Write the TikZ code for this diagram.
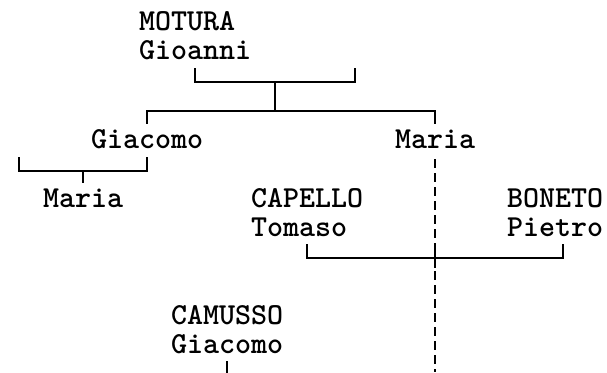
\documentclass[tikz,border=0pt]{standalone}
\usepackage{fontspec}
\newfontfamily\famfont{lmmonolt10-bold.otf}
\usetikzlibrary{calc}
\tikzset{
  person/.style={anchor=base west, inner sep=0pt, outer sep=0pt, align=left,
    font=\famfont\fontsize{30.5}{29}\selectfont},
  rel/.style={line width=2.2pt, line cap=rect, black},
  desc/.style={line width=2.2pt, black, dash pattern=on 9pt off 5pt}
}
\begin{document}
\begin{tikzpicture}[x=1pt, y=-1pt]
\useasboundingbox (0,0) rectangle (607,372);
% people (anchor = baseline of the last line)
\node[person] (motura)  at (139,59)  {MOTURA\\Gioanni};
\node[person] (giacomo) at (91,148)  {Giacomo};
\node[person] (maria1)  at (395,148) {Maria};
\node[person] (maria2)  at (43,207)  {Maria};
\node[person] (capello) at (251,236) {CAPELLO\\Tomaso};
\node[person] (boneto)  at (507,236) {BONETO\\Pietro};
\node[person] (camusso) at (171,353) {CAMUSSO\\Giacomo};
% levels and free ends
\coordinate (sp1) at (355,69);
\coordinate (lvl1) at (0,82);
\coordinate (lvl2) at (0,111);
\coordinate (c1) at (0,123);
\coordinate (sp2) at (19,158);
\coordinate (lvl3) at (0,171);
\coordinate (c2) at (0,182);
\coordinate (d0) at (0,159);
\coordinate (bot) at (0,372);
\coordinate (b4) at (0,245);
\coordinate (lvl4) at (0,258);
\coordinate (c4) at (0,362);
% MOTURA couple
\draw[rel] (motura.center |- sp1) |- (sp1 |- lvl1) -- (sp1);
\coordinate (mid1) at ($(motura.center |- lvl1)!0.5!(sp1 |- lvl1)$);
\draw[rel] (mid1) -- (mid1 |- lvl2);
\draw[rel] (giacomo.center |- c1) |- (maria1.center |- lvl2) -- (maria1.center |- c1);
% Giacomo couple
\draw[rel] (sp2) |- (giacomo.center |- lvl3) -- (giacomo.center |- sp2);
\coordinate (mid2) at ($(sp2 |- lvl3)!0.5!(giacomo.center |- lvl3)$);
\draw[rel] (mid2) -- (mid2 |- c2);
% Maria line of descent
\draw[desc] (maria1.center |- d0) -- (maria1.center |- bot);
% CAPELLO - BONETO
\coordinate (bo) at ($(boneto.center)+(8,0)$);
\draw[rel] (capello.center |- b4) |- (bo |- lvl4) -- (bo |- b4);
\draw[rel] ($(maria1.center |- lvl4)+(0,-7)$) -- ($(maria1.center |- lvl4)+(0,9)$);
% CAMUSSO
\draw[rel] (camusso.center |- c4) -- (camusso.center |- bot);
\end{tikzpicture}
\end{document}
